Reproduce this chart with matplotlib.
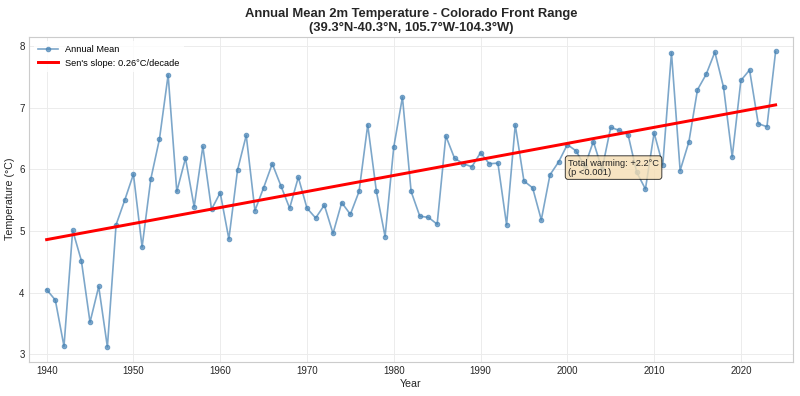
import numpy as np
import matplotlib
matplotlib.use("Agg")
import matplotlib.pyplot as plt

years = list(range(1940, 2025))
temps = [
    4.05, 3.88, 3.13, 5.01, 4.52, 3.52, 4.10, 3.12, 5.10, 5.50,  # 1940-1949
    5.92, 4.74, 5.84, 6.49, 7.53, 5.64, 6.18, 5.39, 6.37, 5.35,  # 1950-1959
    5.62, 4.87, 5.99, 6.55, 5.33, 5.70, 6.09, 5.73, 5.37, 5.87,  # 1960-1969
    5.37, 5.21, 5.42, 4.96, 5.46, 5.27, 5.64, 6.72, 5.64, 4.91,  # 1970-1979
    6.36, 7.17, 5.64, 5.24, 5.22, 5.11, 6.54, 6.18, 6.09, 6.04,  # 1980-1989
    6.27, 6.09, 6.10, 5.10, 6.72, 5.81, 5.70, 5.18, 5.91, 6.12,  # 1990-1999
    6.40, 6.30, 6.05, 6.45, 6.00, 6.68, 6.63, 6.56, 5.95, 5.68,  # 2000-2009
    6.59, 6.07, 7.89, 5.98, 6.44, 7.29, 7.54, 7.90, 7.33, 6.20,  # 2010-2019
    7.44, 7.61, 6.74, 6.69, 7.91,                                # 2020-2024
]
sen_slope = 0.026          # degC per year (0.26 degC/decade)
trend_start = 4.86         # trend value in 1940
title = "Annual Mean 2m Temperature - Colorado Front Range\n(39.3°N-40.3°N, 105.7°W-104.3°W)"

plt.rcParams['font.family'] = ['Liberation Sans', 'DejaVu Sans']

x = np.array(years)
y = np.array(temps)
trend = trend_start + sen_slope * (x - x[0])

fig = plt.figure(figsize=(12.0, 5.94), dpi=200/3)
ax = fig.add_axes([0.0366, 0.0866, 0.9546, 0.8207])
ax.set_facecolor('white')
ax.grid(True, color='#ebebeb', linewidth=1.0)
ax.set_axisbelow(True)
for s in ax.spines.values():
    s.set_color('#cccccc')
    s.set_linewidth(1.25)

ax.plot(x, y, marker='o', markersize=5, color='steelblue', alpha=0.7,
        linewidth=1.8, label='Annual Mean')
ax.plot(x, trend, color='red', linewidth=3.2,
        label=f"Sen's slope: {sen_slope*10:.2f}°C/decade")

ax.set_xlim(1938, 2026)
ax.set_xticks(range(1940, 2021, 10))
ax.tick_params(axis='both', labelsize=10.5, colors='#262626', length=0, pad=5)
ax.set_xlabel('Year', fontsize=11.5, color='#262626', labelpad=3)
ax.set_ylabel('Temperature (°C)', fontsize=11.5, color='#262626', labelpad=4)
ax.set_title(title, fontsize=14, fontweight='bold', color='#262626', pad=6,
             linespacing=1.25)

leg = ax.legend(loc='upper left', fontsize=10, frameon=True, framealpha=0.8,
                edgecolor='white', borderpad=0.4, handlelength=2.2)

total = sen_slope * (x[-1] - x[0])
ax.text(0.7055, 0.625, f"Total warming: +{total:.1f}°C\n(p <0.001)",
        transform=ax.transAxes, fontsize=10, va='top', ha='left',
        linespacing=1.0, color='#262626',
        bbox=dict(boxstyle='round,pad=0.3', facecolor='wheat', alpha=0.8,
                  edgecolor='black', linewidth=1.0))

fig.savefig('out.png', dpi=200/3)
